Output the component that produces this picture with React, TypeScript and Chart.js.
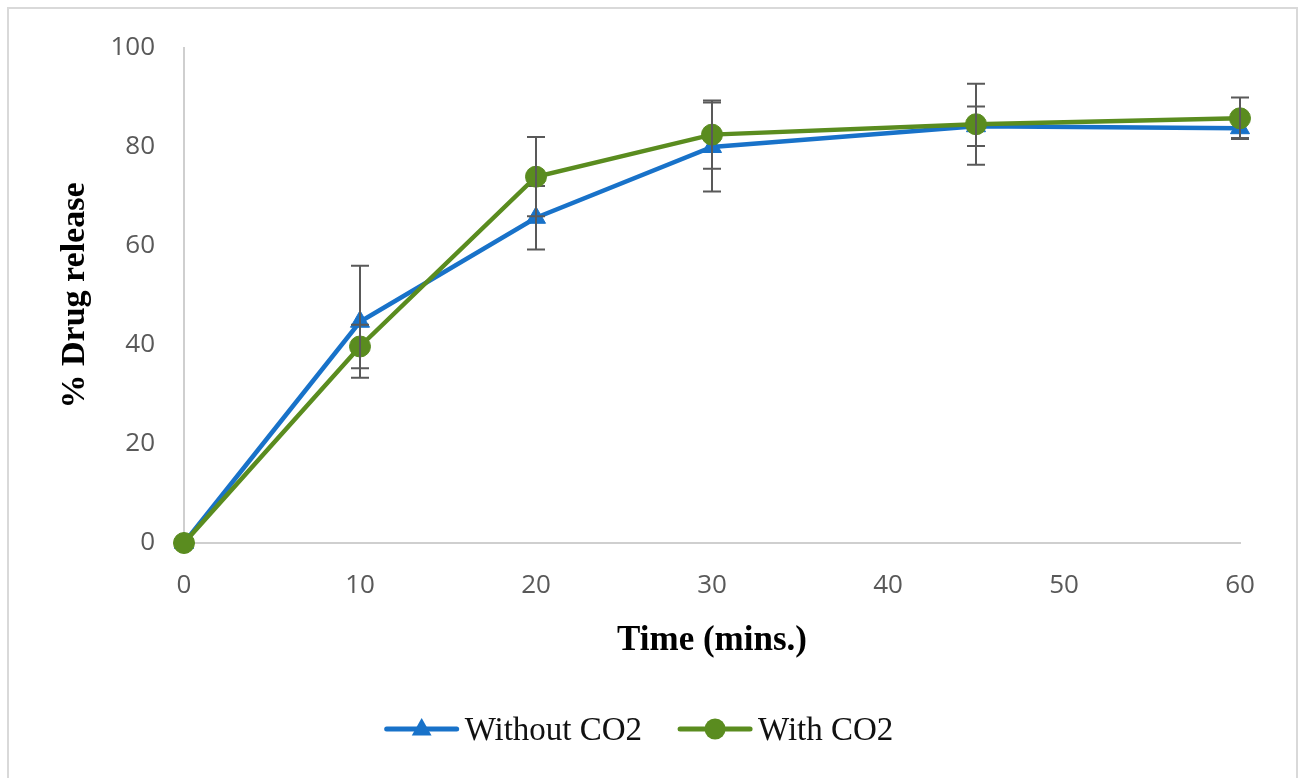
import React, { useEffect, useRef } from "react";
import { Chart, registerables } from "chart.js";

Chart.register(...registerables);

// ---- data ----
const times = [0, 10, 20, 30, 45, 60];
const withoutCO2 = [0, 44.7, 65.7, 80.0, 84.2, 83.8];
const withoutCO2Err = [0, 11.3, 6.4, 9.0, 4.0, 2.0];
const withCO2 = [0, 39.7, 74.0, 82.5, 84.6, 85.8];
const withCO2Err = [0, 4.4, 8.0, 6.9, 8.2, 4.2];
const xTicks = [0, 10, 20, 30, 40, 50, 60];
const yTicks = [0, 20, 40, 60, 80, 100];
const seriesLabels = ["Without CO2", "With CO2"];
const xTitle = "Time (mins.)";
const yTitle = "% Drug release";

const BLUE = "#1872c9";
const GREEN = "#5a8c1f";
const AXIS = "#cfcfcf";
const TICK = "#595959";

const framePlugin = {
  id: "frame",
  beforeDraw(chart: any) {
    const ctx = chart.ctx;
    ctx.save();
    ctx.fillStyle = "#ffffff";
    ctx.fillRect(0, 0, chart.width, chart.height);
    ctx.strokeStyle = "#d9d9d9";
    ctx.lineWidth = 2;
    ctx.strokeRect(8, 8, 1289, 820);
    ctx.restore();
  },
};

const errorBarPlugin = {
  id: "errorBars",
  afterDatasetDraw(chart: any, args: any) {
    const ds: any = chart.data.datasets[args.index];
    const errs: number[] = ds.errors || [];
    const xs = chart.scales.x;
    const ys = chart.scales.y;
    const ctx = chart.ctx;
    ctx.save();
    ctx.strokeStyle = "#595959";
    ctx.lineWidth = 2;
    ds.data.forEach((p: any, i: number) => {
      const e = errs[i];
      if (!e) return;
      const px = xs.getPixelForValue(p.x);
      const top = ys.getPixelForValue(p.y + e);
      const bot = ys.getPixelForValue(p.y - e);
      const cap = 9;
      ctx.beginPath();
      ctx.moveTo(px, top);
      ctx.lineTo(px, bot);
      ctx.moveTo(px - cap, top);
      ctx.lineTo(px + cap, top);
      ctx.moveTo(px - cap, bot);
      ctx.lineTo(px + cap, bot);
      ctx.stroke();
    });
    ctx.restore();
  },
};

const legendPlugin = {
  id: "customLegend",
  afterDraw(chart: any) {
    const ctx = chart.ctx;
    ctx.save();
    ctx.font = '33px "Liberation Serif"';
    const items = chart.data.datasets.map((ds: any) => ({
      label: ds.label,
      color: ds.borderColor,
      style: ds.pointStyle,
      r: ds.pointRadius,
    }));
    const lineLen = 70;
    const gap = 8;
    const itemGap = 38;
    const widths = items.map((it: any) => lineLen + gap + ctx.measureText(it.label).width);
    const total = widths.reduce((a: number, b: number) => a + b, 0) + itemGap * (items.length - 1);
    let x = 640 - total / 2;
    const cy = 729;
    const baseline = 740;
    items.forEach((it: any, i: number) => {
      ctx.strokeStyle = it.color;
      ctx.lineWidth = 5;
      ctx.lineCap = "round";
      ctx.beginPath();
      ctx.moveTo(x, cy);
      ctx.lineTo(x + lineLen, cy);
      ctx.stroke();
      ctx.fillStyle = it.color;
      ctx.beginPath();
      const mx = x + lineLen / 2;
      if (it.style === "triangle") {
        const r = it.r * 0.9;
        ctx.moveTo(mx, cy - r * 1.1);
        ctx.lineTo(mx + r, cy + r * 0.65);
        ctx.lineTo(mx - r, cy + r * 0.65);
        ctx.closePath();
      } else {
        ctx.arc(mx, cy, it.r, 0, Math.PI * 2);
      }
      ctx.fill();
      ctx.fillStyle = "#111111";
      ctx.textBaseline = "alphabetic";
      ctx.textAlign = "left";
      ctx.fillText(it.label, x + lineLen + gap, baseline);
      x += widths[i] + itemGap;
    });
    ctx.restore();
  },
};

export default function App() {
  const canvasRef = useRef<HTMLCanvasElement | null>(null);

  useEffect(() => {
    if (!canvasRef.current) return;
    const chart = new Chart(canvasRef.current, {
      type: "line",
      data: {
        datasets: [
          {
            label: seriesLabels[0],
            data: times.map((t, i) => ({ x: t, y: withoutCO2[i] })),
            errors: withoutCO2Err,
            borderColor: BLUE,
            backgroundColor: BLUE,
            borderWidth: 4.5,
            pointStyle: "triangle",
            pointRadius: 11,
            pointBorderWidth: 1,
            pointBorderColor: BLUE,
            pointBackgroundColor: BLUE,
            tension: 0,
            clip: false,
            order: 2,
          } as any,
          {
            label: seriesLabels[1],
            data: times.map((t, i) => ({ x: t, y: withCO2[i] })),
            errors: withCO2Err,
            borderColor: GREEN,
            backgroundColor: GREEN,
            borderWidth: 4.5,
            pointStyle: "circle",
            pointRadius: 10.5,
            pointBorderWidth: 1,
            pointBorderColor: GREEN,
            pointBackgroundColor: GREEN,
            tension: 0,
            clip: false,
            order: 1,
          } as any,
        ],
      },
      options: {
        animation: false,
        responsive: true,
        maintainAspectRatio: false,
        layout: { padding: { left: 0, top: 48, right: 63, bottom: 105 } },
        plugins: {
          legend: { display: false },
          tooltip: { enabled: false },
        },
        scales: {
          x: {
            type: "linear",
            position: "bottom",
            min: 0,
            max: 60,
            afterBuildTicks: (s: any) => {
              s.ticks = xTicks.map((v) => ({ value: v }));
            },
            afterFit: (s: any) => {
              s.height = 130;
            },
            grid: { display: false, drawTicks: false },
            border: { display: true, color: AXIS, width: 2 },
            ticks: {
              padding: 27,
              color: TICK,
              font: { family: '"Open Sans"', size: 26 },
            },
            title: {
              display: true,
              text: xTitle,
              color: "#000000",
              font: { family: '"Liberation Serif"', size: 35, weight: "bold" },
              padding: { top: 0, bottom: 11 },
            },
          },
          y: {
            type: "linear",
            min: 0,
            max: 100,
            afterBuildTicks: (s: any) => {
              s.ticks = yTicks.map((v) => ({ value: v }));
            },
            afterFit: (s: any) => {
              s.width = 184;
            },
            grid: { display: false, drawTicks: false },
            border: { display: true, color: AXIS, width: 2 },
            ticks: {
              padding: 29,
              color: TICK,
              font: { family: '"Open Sans"', size: 26 },
            },
            title: {
              display: true,
              text: yTitle,
              color: "#000000",
              font: { family: '"Liberation Serif"', size: 34, weight: "bold" },
              padding: { top: 55, bottom: 0 },
            },
          },
        },
      },
      plugins: [framePlugin, errorBarPlugin, legendPlugin],
    });
    return () => chart.destroy();
  }, []);

  return (
    <div style={{ position: "fixed", left: 0, top: 0, width: 1303, height: 778 }}>
      <canvas ref={canvasRef} />
    </div>
  );
}
